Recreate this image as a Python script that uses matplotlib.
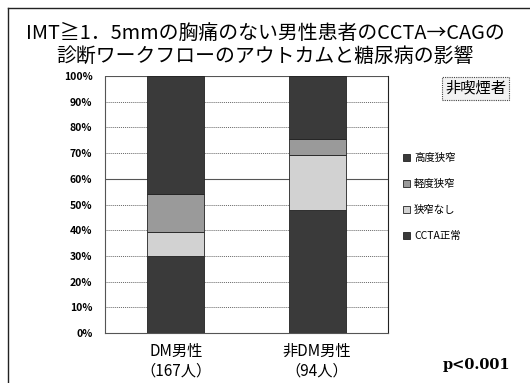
import numpy as np
import matplotlib
matplotlib.use("Agg")
import matplotlib.pyplot as plt
from matplotlib.lines import Line2D

plt.rcParams['font.family'] = ['Noto Sans CJK JP', 'DejaVu Sans']

# data (% of patients)
groups = ['DM男性\n（167人）', '非DM男性\n（94人）']
cats = ['CCTA正常', '狭窄なし', '軽度狭窄', '高度狭窄']
cta_normal = [29.9, 47.9]
no_stenosis = [9.6, 21.2]
mild = [14.4, 6.4]
severe = [46.1, 24.5]
colors = ['#3a3a3a', '#d2d2d2', '#9a9a9a', '#3a3a3a']
yticks = np.arange(0, 101, 10)

fig = plt.figure(figsize=(5.30, 3.83), dpi=100)
ax = fig.add_axes([0.198, 0.1305, 0.534, 0.671])

x = np.arange(len(groups))
bottom = np.zeros(len(groups))
bars = []
for vals, c, lab in zip([cta_normal, no_stenosis, mild, severe], colors, cats):
    b = ax.bar(x, vals, width=0.40, bottom=bottom, color=c, edgecolor='#222222',
               linewidth=0.6, label=lab, zorder=3)
    bars.append(b)
    bottom += np.array(vals)

ax.set_xlim(-0.5, 1.5)
ax.set_ylim(0, 100)
ax.set_yticks(yticks)
ax.set_yticklabels([f'{v}%' for v in yticks], fontsize=7.5, fontweight='bold')
ax.set_xticks(x)
ax.set_xticklabels(groups, fontsize=11, linespacing=1.2)
ax.tick_params(axis='x', length=0, pad=7)
ax.tick_params(axis='y', length=0, pad=9)

for v in yticks[1:]:
    if v == 60 or v == 100:
        ax.axhline(v, color='#555555', lw=0.8, zorder=1)
    else:
        ax.axhline(v, color='#666666', lw=0.7, ls=(0, (1, 1)), zorder=1)
ax.spines['left'].set_linestyle((0, (1, 1)))
ax.spines['left'].set_color('#555555')
ax.spines['bottom'].set_linestyle((0, (1, 1)))
ax.spines['bottom'].set_color('#555555')
ax.spines['top'].set_visible(False)
ax.spines['right'].set_color('#222222')
ax.spines['right'].set_linewidth(0.8)

handles = [b[0] for b in bars][::-1]
fig.legend(handles, cats[::-1], loc='upper left', bbox_to_anchor=(0.742, 0.625),
           frameon=False, fontsize=7.5, handlelength=0.7, handleheight=0.7,
           handletextpad=0.4, labelspacing=1.55)

fig.text(0.5, 0.882, 'IMT≧1．5mmの胸痛のない男性患者のCCTA→CAGの\n診断ワークフローのアウトカムと糖尿病の影響',
         ha='center', va='center', fontsize=14.3, linespacing=1.1)

fig.text(0.898, 0.77, '非喫煙者', ha='center', va='center', fontsize=11,
         bbox=dict(boxstyle='square,pad=0.2', facecolor='#f2f2f2',
                   edgecolor='#444444', linestyle=(0, (1, 1)), linewidth=0.8))

fig.text(0.962, 0.047, 'p<0.001', ha='right', va='center', fontsize=10.5,
         fontweight='bold', family='DejaVu Serif')

# outer frame (top and left edges)
fig.add_artist(Line2D([0.015, 1.0], [0.978, 0.978], color='#222222', lw=1.0))
fig.add_artist(Line2D([0.015, 0.015], [0.0, 0.978], color='#222222', lw=1.0))

fig.savefig('out.png', dpi=100)
